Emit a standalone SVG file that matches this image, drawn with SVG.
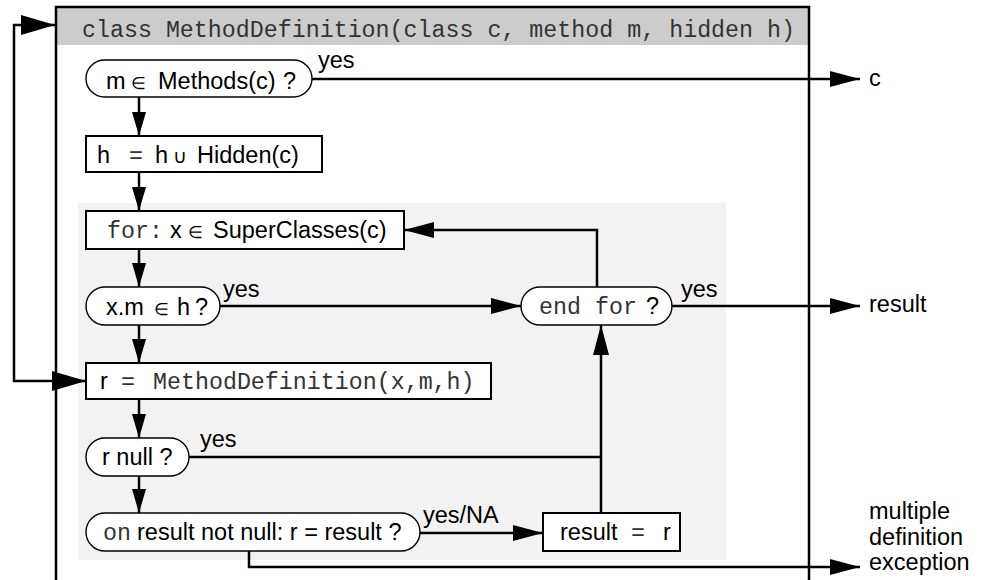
<svg xmlns="http://www.w3.org/2000/svg" width="985" height="580" viewBox="0 0 985 580">
<defs>
<style>
text{font-family:"Liberation Sans",Arial,sans-serif;font-size:23.5px;fill:#000}
.mono{font-family:"Liberation Mono","Courier New",monospace;font-size:23.3px;fill:#333}
.sym{font-size:19px}
.el{font-size:16.5px}
.box{fill:#fff;stroke:#000;stroke-width:2}
.pill{fill:#fff;stroke:#000;stroke-width:1.4}
.con{fill:none;stroke:#000;stroke-width:2.5}
</style>
<marker id="ah" viewBox="0 0 30 16" refX="30" refY="8" markerWidth="30" markerHeight="16" markerUnits="userSpaceOnUse" orient="auto">
<path d="M0,0 L30,8 L0,16 z" fill="#000"/>
</marker>
<marker id="av" viewBox="0 0 24 14" refX="24" refY="7" markerWidth="24" markerHeight="14" markerUnits="userSpaceOnUse" orient="auto">
<path d="M0,0 L24,7 L0,14 z" fill="#000"/>
</marker>
<marker id="ab" viewBox="0 0 34 20" refX="34" refY="10" markerWidth="34" markerHeight="20" markerUnits="userSpaceOnUse" orient="auto">
<path d="M0,0 L34,10 L0,20 z" fill="#000"/>
</marker>
</defs>

<g id="frame">
<rect x="56" y="7" width="753" height="38" fill="#cccccc"/>
<rect x="78" y="203" width="648" height="357" fill="#f2f2f2"/>
<path d="M56,580 L56,7 L809,7 L809,580" fill="none" stroke="#000" stroke-width="2.5"/>
<text x="82" y="37" class="mono">class MethodDefinition(class c, method m, hidden h)</text>
</g>

<g id="connectors">
<path class="con" d="M14,203 L14,25 L55,25" marker-end="url(#ab)"/>
<path class="con" d="M14,203 L14,381 L86,381" marker-end="url(#ab)"/>
<path class="con" d="M312,79 L860,79" marker-end="url(#ah)"/>
<path class="con" d="M139,97 L139,136" marker-end="url(#av)"/>
<path class="con" d="M139,172 L139,211" marker-end="url(#av)"/>
<path class="con" d="M139,249 L139,287" marker-end="url(#av)"/>
<path class="con" d="M220,306 L521,306" marker-end="url(#ah)"/>
<path class="con" d="M597,287 L597,230 L404,230" marker-end="url(#ah)"/>
<path class="con" d="M672,306 L860,306" marker-end="url(#ah)"/>
<path class="con" d="M139,325 L139,363" marker-end="url(#av)"/>
<path class="con" d="M139,399 L139,438" marker-end="url(#av)"/>
<path class="con" d="M189,457 L601,457"/>
<path class="con" d="M601,513 L601,325" marker-end="url(#ah)"/>
<path class="con" d="M139,476 L139,513" marker-end="url(#av)"/>
<path class="con" d="M420,533 L543,533" marker-end="url(#ah)"/>
<path class="con" d="M249,551 L249,567 L860,567" marker-end="url(#ah)"/>
<text x="318" y="68">yes</text>
<text x="223" y="297">yes</text>
<text x="681" y="297">yes</text>
<text x="200" y="447">yes</text>
<text x="423" y="523">yes/NA</text>
</g>

<g id="n-methods">
<rect class="pill" x="86" y="60" width="226" height="37" rx="18.5"/>
<text y="89"><tspan x="106">m</tspan><tspan x="131" class="el">∈</tspan><tspan x="158">Methods(c)</tspan><tspan x="283">?</tspan></text>
</g>

<g id="n-hidden">
<rect class="box" x="86" y="136" width="236" height="36"/>
<text y="163"><tspan x="97">h</tspan><tspan x="129" class="mono">=</tspan><tspan x="155">h</tspan><tspan x="173" class="sym">∪</tspan><tspan x="197">Hidden(c)</tspan></text>
</g>

<g id="n-for">
<rect class="box" x="86" y="211" width="318" height="38"/>
<text y="238"><tspan x="107" class="mono">for:</tspan><tspan x="170">x</tspan><tspan x="188" class="el">∈</tspan><tspan x="213">SuperClasses(c)</tspan></text>
</g>

<g id="n-xm">
<rect class="pill" x="86" y="287" width="134" height="38" rx="19"/>
<text y="315"><tspan x="106">x.m</tspan><tspan x="154" class="el">∈</tspan><tspan x="177">h</tspan><tspan x="195">?</tspan></text>
</g>

<g id="n-endfor">
<rect class="pill" x="521" y="287" width="151" height="38" rx="19"/>
<text y="314"><tspan x="539" class="mono">end for</tspan><tspan x="646">?</tspan></text>
</g>

<g id="n-r">
<rect class="box" x="86" y="363" width="405" height="36"/>
<text y="389"><tspan x="100">r</tspan><tspan x="121" class="mono">=</tspan><tspan x="153" class="mono">MethodDefinition(x,m,h)</tspan></text>
</g>

<g id="n-rnull">
<rect class="pill" x="86" y="438" width="103" height="38" rx="19"/>
<text x="102" y="465">r null ?</text>
</g>

<g id="n-onresult">
<rect class="pill" x="86" y="513" width="334" height="38" rx="19"/>
<text y="540"><tspan x="103" class="mono">on</tspan><tspan x="137">result not null: r = result ?</tspan></text>
</g>

<g id="n-result">
<rect class="box" x="543" y="513" width="137" height="38"/>
<text y="540"><tspan x="560">result</tspan><tspan x="631" class="mono">=</tspan><tspan x="663">r</tspan></text>
</g>

<g id="outputs">
<text x="869" y="86">c</text>
<text x="869" y="312">result</text>
<text x="869" y="519">multiple</text>
<text x="869" y="545">definition</text>
<text x="869" y="570">exception</text>
</g>
</svg>
